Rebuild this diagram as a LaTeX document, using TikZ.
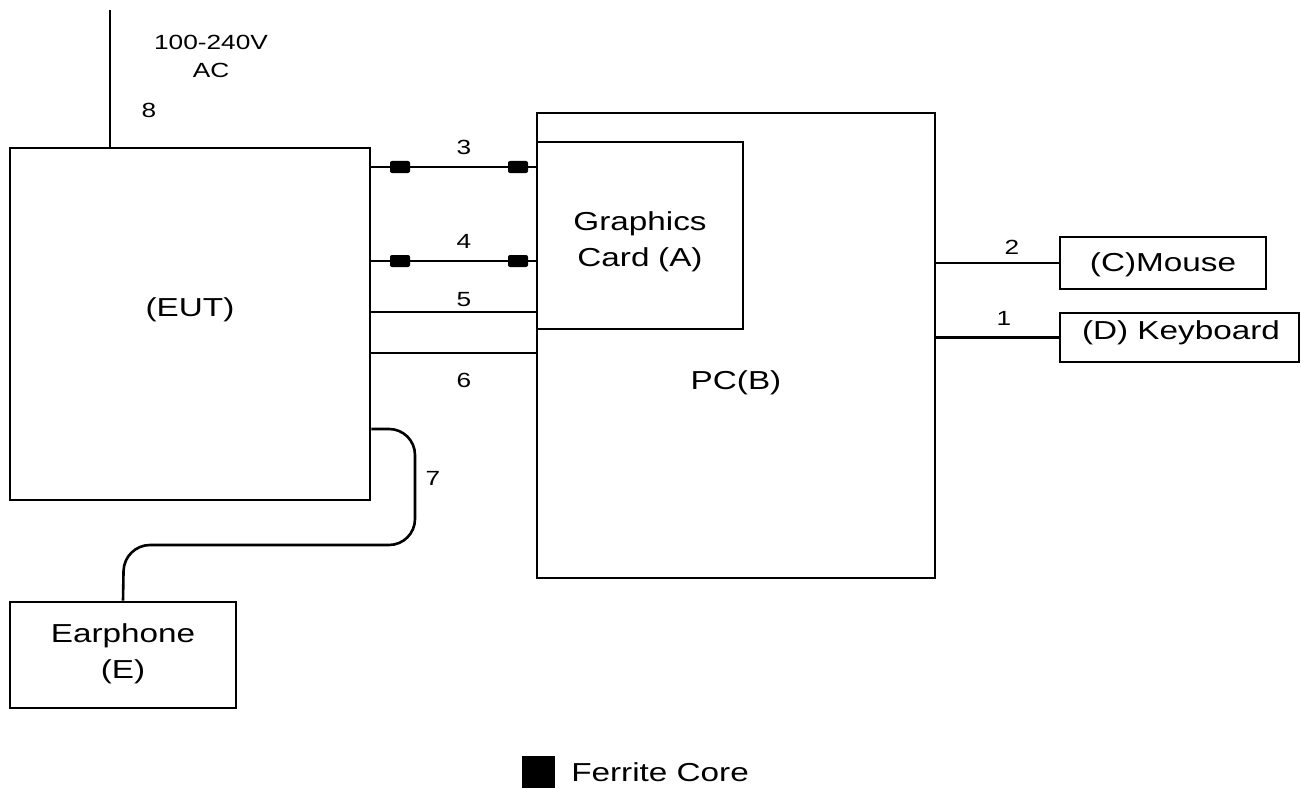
\documentclass[tikz,border=0pt]{standalone}
\usepackage{fontspec}
\setmainfont{Liberation Sans}[FakeStretch=1.28]
\begin{document}
\begin{tikzpicture}[x=1pt,y=-1pt,line width=2.6pt,
  box/.style={draw,line width=2.6pt,inner sep=0pt},
  lbl/.style={font=\fontsize{26}{36}\selectfont,align=center,inner sep=0pt},
  num/.style={font=\fontsize{20.5}{24}\selectfont,inner sep=0pt},
  ferrite/.style={fill=black,draw=none,minimum width=20pt,minimum height=12pt,inner sep=0pt,rounded corners=2pt},
  wire/.style={line width=2.6pt}]
\useasboundingbox (0,0) rectangle (1301,789);
% boxes
\node[box,minimum width=360pt,minimum height=352pt] (EUT) at (190,324) {};
\node[box,minimum width=398pt,minimum height=465pt] (PC) at (736,345.5) {};
\node[box,minimum width=206pt,minimum height=187pt] (GC) at (640,235.5) {};
\node[box,minimum width=206pt,minimum height=52pt] (M) at (1163,263) {};
\node[box,minimum width=239pt,minimum height=49pt] (K) at (1179.5,337.5) {};
\node[box,minimum width=226pt,minimum height=106pt] (E) at (123,655) {};
% texts
\node[lbl] (tEUT) at (190,310) {(EUT)};
\node[lbl] (tPC) at (736,383) {PC(B)};
\node[lbl,text width=200pt] (tGC) at (640,242) {Graphics\\Card (A)};
\node[lbl] (tM) at (1163,265) {(C)Mouse};
\node[lbl] (tK) at (1181,333) {(D) Keyboard};
\node[lbl,text width=200pt] (tE) at (123,654) {Earphone\\(E)};
% helper coordinates
\coordinate (c3) at (0,167);
\coordinate (c4) at (0,261);
\coordinate (c5) at (0,312);
\coordinate (c6) at (0,353);
\coordinate (pw) at (110,10);
% power
\draw[wire] (pw) -- (pw |- EUT.north);
\node[num] (n100) at (211,42) {100-240V};
\node[num] (nAC) at (211,70) {AC};
\node[num] (n8) at (149,110) {8};
% cables to graphics card / PC
\draw[wire] (EUT.east |- c3) -- (GC.west |- c3);
\draw[wire] (EUT.east |- c4) -- (GC.west |- c4);
\draw[wire] (EUT.east |- c5) -- (GC.west |- c5);
\draw[wire] (EUT.east |- c6) -- (PC.west |- c6);
\node[ferrite] (f3a) at (400,167) {};
\node[ferrite] (f3b) at (518,167) {};
\node[ferrite] (f4a) at (400,261) {};
\node[ferrite] (f4b) at (518,261) {};
\node[num] (n3) at (464,147) {3};
\node[num] (n4) at (464,241) {4};
\node[num] (n5) at (464,300) {5};
\node[num] (n6) at (464,380) {6};
% mouse, keyboard
\draw[wire] (PC.east |- M.west) -- (M.west);
\draw[wire] (PC.east |- K.west) -- (K.west);
\node[num] (n2) at (1012,247) {2};
\node[num] (n1) at (1004,318) {1};
% earphone cable
\coordinate (e1) at (415,429);
\coordinate (e2) at (415,545);
\coordinate (e3) at (124,545);
\draw[wire,rounded corners=26pt] (EUT.east |- e1) -- (e1) -- (e2) -- (e3) -- (E.north);
\node[num] (n7) at (433,478) {7};
% legend
\node[fill=black,minimum width=33pt,minimum height=32pt,inner sep=0pt] (leg) at (538.5,772) {};
\node[lbl,anchor=west] (tleg) at (570,772) {Ferrite Core};
\end{tikzpicture}
\end{document}
